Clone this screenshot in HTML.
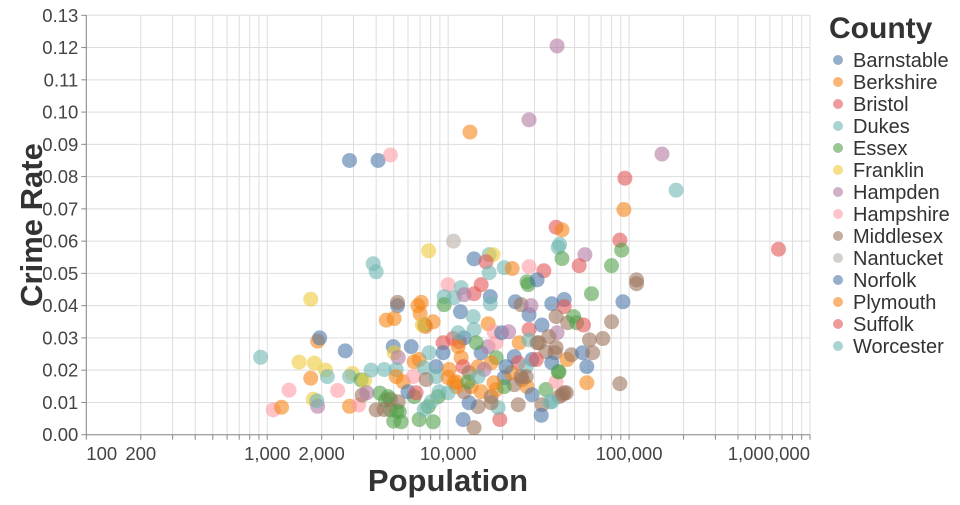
<!DOCTYPE html>
<html><head><meta charset="utf-8"><style>
html,body{margin:0;padding:0;background:#fff;}
svg text{font-family:"Liberation Sans",sans-serif;}
</style></head><body>
<svg id="chart" width="960" height="500" xmlns="http://www.w3.org/2000/svg">
<g id="grid"></g>
<g id="axes"></g>
<g id="marks"></g>
<g id="legend"></g>
</svg>
<script>
const counties = ["Barnstable","Berkshire","Bristol","Dukes","Essex","Franklin","Hampden","Hampshire","Middlesex","Nantucket","Norfolk","Plymouth","Suffolk","Worcester"];
const colors = ["#4c78a8","#f58518","#e45756","#72b7b2","#54a24b","#eeca3b","#b279a2","#ff9da6","#9d755d","#bab0ac","#4c78a8","#f58518","#e45756","#72b7b2"];
const xTicks = [100,200,1000,2000,10000,100000,1000000];
const xTickLabels = ["100","200","1,000","2,000","10,000","100,000","1,000,000"];
const yTicks = [0,0.01,0.02,0.03,0.04,0.05,0.06,0.07,0.08,0.09,0.10,0.11,0.12,0.13];
const yTickLabels = ["0.00","0.01","0.02","0.03","0.04","0.05","0.06","0.07","0.08","0.09","0.10","0.11","0.12","0.13"];
// county index per point
const pointCounty = [13,7,11,7,5,5,5,6,13,11,5,11,0,5,13,7,0,0,5,13,11,7,4,5,8,6,13,8,13,13,0,7,4,4,4,8,4,4,4,11,0,8,11,11,11,8,5,5,9,
0,5,6,0,11,11,13,12,12,12,0,11,11,0,0,13,13,13,11,11,7,8,13,11,11,2,8,11,0,6,7,4,11,6,11,11,8,11,0,0,2,11,2,0,6,8,8,8,0,13,8,8,4,11,0,4,7,4,8,8,13,8,0,8,2,13,8,8,0,0,8,8,11,13,4,4,4,4,4,0,2,8,4,8,4,13,13,13,11,11,4,13,11,11,0,8,8,2,8,11,0,8,
0,7,13,2,2,13,4,13,6,0,13,13,11,11,11,13,4,
13,5,2,13,13,11,7,2,4,4,0,0,13,0,8,0,6,0,0,2,8,8,4,4,2,8,4,0,11,7,0,6,13,8,8,8,8,0,8,0,4,11,8,8,8,13,
11,6,6,6,13,12,11,12,12,4,12,11,13,13,4,6,12,4,8,8];
const population = [920,1080,1200,1320,1500,1740,1800,1900,1880,1740,1820,1900,1950,2100,2150,2450,2700,2850,2950,2850,2850,3200,3300,3450,3350,3550,3750,4000,3850,4000,4100,4800,4200,4500,4800,4800,5000,5500,5200,4550,5250,5250,6800,7000,7500,7400,7200,7800,10700,
4970,5030,5300,6250,6490,6910,7850,9380,10650,11500,12250,11350,11800,9380,8580,7370,5160,4430,5160,5640,6410,7560,8580,10130,10800,12100,13060,14650,15220,16640,18420,18420,17290,15800,13400,15220,17290,18420,20400,23200,24400,24700,28000,33000,40000,36000,31800,34700,29100,27000,25600,23200,20400,27300,29100,34700,39500,41000,43800,41000,37400,33000,32700,24400,19300,18900,17290,14650,13060,12100,13900,12250,11100,10000,8800,7750,6910,8260,6490,6000,6650,5300,4660,4430,5370,7370,8060,8920,10000,11100,12900,14650,17900,22300,20900,25300,27000,30700,39000,45400,37400,48000,
13900,10000,11800,15220,13900,9500,9500,10800,12250,11700,13750,13900,7100,5030,8260,11350,14300,
16850,17700,16200,16850,20400,22600,28000,33800,27300,27700,31000,17100,17100,23500,25300,28000,28700,37400,43800,43800,39500,45800,49400,51300,56000,80000,62000,92500,16640,17900,19750,21600,28000,31000,39500,60400,71600,55300,62900,58400,40600,58400,88900,42800,45000,36600,
13200,40000,28000,152000,182000,94800,93600,670000,88900,91000,39500,42600,40600,41300,42600,57000,53000,80000,110000,110000];
const crimeRate = [0.024,0.0077,0.0085,0.0138,0.0225,0.042,0.011,0.0088,0.0105,0.0175,0.0222,0.029,0.030,0.020,0.018,0.0137,0.026,0.085,0.019,0.018,0.0088,0.0092,0.017,0.0168,0.0123,0.013,0.020,0.0077,0.053,0.0505,0.085,0.0867,0.0129,0.0107,0.0077,0.011,0.0042,0.004,0.0074,0.0355,0.040,0.041,0.040,0.0375,0.0335,0.034,0.034,0.057,0.060,
0.0273,0.0254,0.0239,0.0273,0.0226,0.0233,0.0254,0.0285,0.0298,0.0288,0.030,0.0273,0.0239,0.0254,0.0211,0.0208,0.0202,0.0202,0.018,0.0164,0.018,0.0171,0.018,0.0202,0.0161,0.0211,0.0192,0.0211,0.0254,0.0273,0.0285,0.0239,0.0223,0.0202,0.0149,0.0133,0.0118,0.014,0.0177,0.0242,0.0223,0.0285,0.0326,0.034,0.0316,0.0304,0.0285,0.0257,0.0233,0.0211,0.0171,0.0155,0.0149,0.0149,0.0124,0.014,0.0164,0.0195,0.013,0.0118,0.0102,0.0093,0.006,0.0093,0.0047,0.0084,0.0099,0.0087,0.0099,0.0047,0.0022,0.0133,0.0149,0.013,0.0118,0.0087,0.0047,0.004,0.0118,0.0133,0.013,0.0102,0.0118,0.0078,0.0071,0.0078,0.0102,0.0133,0.0177,0.0164,0.0164,0.018,0.0161,0.0192,0.0211,0.018,0.018,0.0233,0.0254,0.0233,0.0223,0.0248,
0.0545,0.0465,0.0456,0.0465,0.0437,0.0428,0.0403,0.0425,0.0434,0.0381,0.0366,0.0326,0.041,0.036,0.035,0.0316,0.0285,
0.0558,0.0558,0.0536,0.0502,0.0518,0.0515,0.0521,0.0508,0.0474,0.0465,0.048,0.0428,0.0406,0.0412,0.0403,0.0372,0.040,0.0406,0.0419,0.0397,0.0366,0.0347,0.0366,0.0347,0.034,0.035,0.0437,0.0412,0.0344,0.0319,0.0316,0.0319,0.0294,0.0285,0.027,0.0294,0.0298,0.0254,0.0254,0.0211,0.0195,0.0161,0.0158,0.0124,0.013,0.0102,
0.0938,0.1205,0.0976,0.087,0.0758,0.0795,0.0698,0.0575,0.0603,0.0572,0.0643,0.0635,0.0581,0.059,0.0546,0.0558,0.0524,0.0524,0.048,0.0468];
// section 2 and 4 county indices (corrected, appended in order)
const countySec1 = [13,7,11,7,5,5,5,6,13,11,5,11,0,5,13,7,0,0,5,13,11,7,4,5,8,6,13,8,13,13,0,7,4,4,4,8,4,4,4,11,0,8,11,11,11,8,5,5,9];
const countySec2 = [0,5,6,0,11,11,13,2,2,2,0,11,11,0,0,13,13,13,11,11,7,8,13,11,11,2,8,11,0,6,7,4,11,6,11,11,8,11,0,0,2,11,2,0,6,8,8,8,0,13,8,8,4,11,0,4,7,4,8,8,13,8,0,8,2,13,8,8,0,0,8,8,11,13,4,4,4,4,4,0,2,8,4,8,4,13,13,13,11,11,4,13,11,11,0,8,8,2,8,11,0,8];
const countySec3 = [0,7,13,2,2,13,4,13,6,0,13,13,11,11,11,13,4];
const countySec4 = [13,5,2,13,13,11,7,2,4,4,0,0,13,0,8,0,6,0,0,2,8,8,4,4,2,8,4,0,11,7,0,6,13,8,8,8,8,0,8,0,4,11,8,8,8,13];
const countySec5 = [11,6,6,6,13,12,11,12,12,4,12,11,13,13,4,6,12,4,8,8];
const countyOf = countySec1.concat(countySec2,countySec3,countySec4,countySec5);

const NS="http://www.w3.org/2000/svg";
const X0=86.3, X1=810, Y0=434.7, Y1=15.3;
const xMin=100, xMax=1000000, yMin=0, yMax=0.13;
function xScale(v){return X0+(Math.log10(v)-Math.log10(xMin))/(Math.log10(xMax)-Math.log10(xMin))*(X1-X0);}
function yScale(v){return Y0-(v-yMin)/(yMax-yMin)*(Y0-Y1);}
function mk(tag,attrs,parent){const e=document.createElementNS(NS,tag);for(const k in attrs)e.setAttribute(k,attrs[k]);parent.appendChild(e);return e;}

const grid=document.getElementById('grid'), axes=document.getElementById('axes'), marks=document.getElementById('marks'), legend=document.getElementById('legend');
for(let p=2;p<=6;p++){for(let k=1;k<=9;k++){const v=k*Math.pow(10,p);if(v>xMax)break;const x=xScale(v);
 const l=mk('line',{x1:x,x2:x,y1:Y1,y2:Y0,stroke:'#ddd','stroke-width':1},grid);
 
 
 const t=mk('line',{x1:x,x2:x,y1:Y0,y2:Y0+5,stroke:'#888','stroke-width':1},axes);
 
 
}}
yTicks.forEach((v,i)=>{const y=yScale(v);
 const l=mk('line',{x1:X0,x2:X1,y1:y,y2:y,stroke:'#ddd','stroke-width':1},grid);
 
 
 const t=mk('line',{x1:X0-5,x2:X0,y1:y,y2:y,stroke:'#888','stroke-width':1},axes);
 
 
 const tx=mk('text',{x:X0-8,y:y+6.5,'text-anchor':'end','font-size':18.5,fill:'#444'},axes);
 tx.textContent=yTickLabels[i];
 
 
});
xTicks.forEach((v,i)=>{const x=xScale(v);
 let anchor='middle'; if(i===0)anchor='start'; if(i===xTicks.length-1)anchor='end';
 const tx=mk('text',{x:x,y:460,'text-anchor':anchor,'font-size':18.5,fill:'#444'},axes);
 tx.textContent=xTickLabels[i];
 
 
});
const xd=mk('line',{x1:X0,x2:X1,y1:Y0,y2:Y0,stroke:'#888'},axes);


const yd=mk('line',{x1:X0,x2:X0,y1:Y1,y2:Y0,stroke:'#888'},axes);


const xt=mk('text',{x:448,y:491,'text-anchor':'middle','font-size':31,'font-weight':'bold',fill:'#333'},axes);
xt.textContent='Population';


const yt=mk('text',{x:0,y:0,'text-anchor':'middle','font-size':31,'font-weight':'bold',fill:'#333',transform:'translate(42,225) rotate(-90)'},axes);
yt.textContent='Crime Rate';



population.forEach((p,i)=>{
 const ci = (countyOf[i]!==undefined)?countyOf[i]:0;
 const c=mk('circle',{cx:xScale(p),cy:yScale(crimeRate[i]),r:7.5,fill:colors[ci],'fill-opacity':0.6},marks);
 
 
});

const lt=mk('text',{x:829,y:38,'font-size':30,'font-weight':'bold',fill:'#333'},legend);
lt.textContent='County';


counties.forEach((n,i)=>{const y=60+i*22;
 const g=mk('g',{},legend);
 
 
 mk('circle',{cx:838,cy:y,r:5,fill:colors[i],'fill-opacity':0.6},g);
 const t=mk('text',{x:853,y:y+7,'font-size':20,fill:'#333'},g);
 t.textContent=n;
});
</script>
</body></html>
